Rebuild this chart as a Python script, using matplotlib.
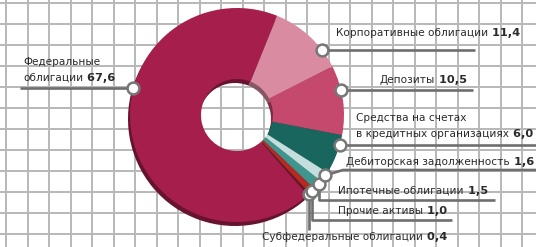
import numpy as np
import matplotlib.pyplot as plt
from matplotlib.colors import to_rgb

# структура активов, %
labels = ['Корпоративные облигации', 'Депозиты',
          'Средства на счетах\nв кредитных организациях',
          'Дебиторская задолженность', 'Ипотечные облигации', 'Прочие активы',
          'Субфедеральные облигации', 'Федеральные\nоблигации']
values = [11.4, 10.5, 6.0, 1.6, 1.5, 1.0, 0.4, 67.6]
value_text = ['11,4', '10,5', '6,0', '1,6', '1,5', '1,0', '0,4', '67,6']
colors = ['#d98ba1', '#c4496c', '#19665f', '#c3dedc', '#3f968e', '#b42b26', '#6b1628', '#a61f4c']

W, H = 536, 247
CX, CY, R, RW = 237, 115, 107, 71   # pixel layout, y from top

fig = plt.figure(figsize=(W / 100, H / 100), dpi=100)
ax = fig.add_axes([0, 0, 1, 1])

def Y(y):
    return H - y

# grid paper background
for gx in np.arange(6, W, 21.5):
    ax.axvline(gx, color='#b8b8b8', lw=1.4, zorder=0)
for gy in np.arange(3, H, 21.0):
    ax.axhline(Y(gy), color='#b8b8b8', lw=1.4, zorder=0)

# "3d" rim
dark = [tuple(c * 0.62 for c in to_rgb(col)) for col in colors]
ax.pie(values, colors=dark, startangle=68, counterclock=False, radius=R,
       center=(CX - 2, Y(CY) - 4), frame=True,
       wedgeprops=dict(width=RW, linewidth=0, zorder=1))
wedges, _ = ax.pie(values, colors=colors, startangle=68, counterclock=False, radius=R,
                   center=(CX, Y(CY)), frame=True,
                   wedgeprops=dict(width=RW, linewidth=0, zorder=2))

# where on the wedge the callout dot sits
anchor_frac = [0.26, 0.64, 0.74, 0.68, 0.67, 0.5, 0.5, 0.40]
# leader routes after the dot (img coords)
routes = [
    [('h', 475)],
    [('h', 473)],
    [('h', 540)],
    [('pt', (343, 170)), ('pt', (540, 170))],
    [('v', 200), ('h', 495)],
    [('v', 220), ('h', 452)],
    [('v', 230)],
    [('h', 20)],
]
text_pos = [(336, 33), (380, 80), (356, 118), (346, 162), (338, 191), (338, 211), (262, 237), (23, 62)]

order = [6, 5, 4, 3, 2, 1, 0, 7]
for i in order:
    w = wedges[i]
    a = np.deg2rad(w.theta1 + anchor_frac[i] * (w.theta2 - w.theta1))
    px, py = CX + R * np.cos(a), Y(CY) + R * np.sin(a)
    xs, ys = [px], [py]
    for kind, v in routes[i]:
        if kind == 'h':
            xs.append(v); ys.append(ys[-1])
        elif kind == 'v':
            xs.append(xs[-1]); ys.append(Y(v))
        else:
            xs.append(v[0]); ys.append(Y(v[1]))
    ax.plot(xs, ys, color='#6f6f6f', lw=1.9, solid_capstyle='butt', zorder=4, clip_on=False)
    ax.plot(px, py, 'o', ms=8.5, mfc='white', mec='#777777', mew=1.8, zorder=5)

for i, lab in enumerate(labels):
    x0, y0 = text_pos[i]
    for j, line in enumerate(lab.split('\n')):
        t = ax.text(x0, Y(y0 + 16 * j), line, fontsize=7.6, color='#2a2a2a',
                    ha='left', va='center', zorder=6)
    ax.annotate(' ' + value_text[i], xy=(1, 0.5), xycoords=t, fontsize=8.2,
                fontweight='bold', color='#2a2a2a', ha='left', va='center', zorder=6)

ax.set_xlim(0, W)
ax.set_ylim(0, H)
ax.axis('off')
fig.savefig('out.png', dpi=100, facecolor='white')
